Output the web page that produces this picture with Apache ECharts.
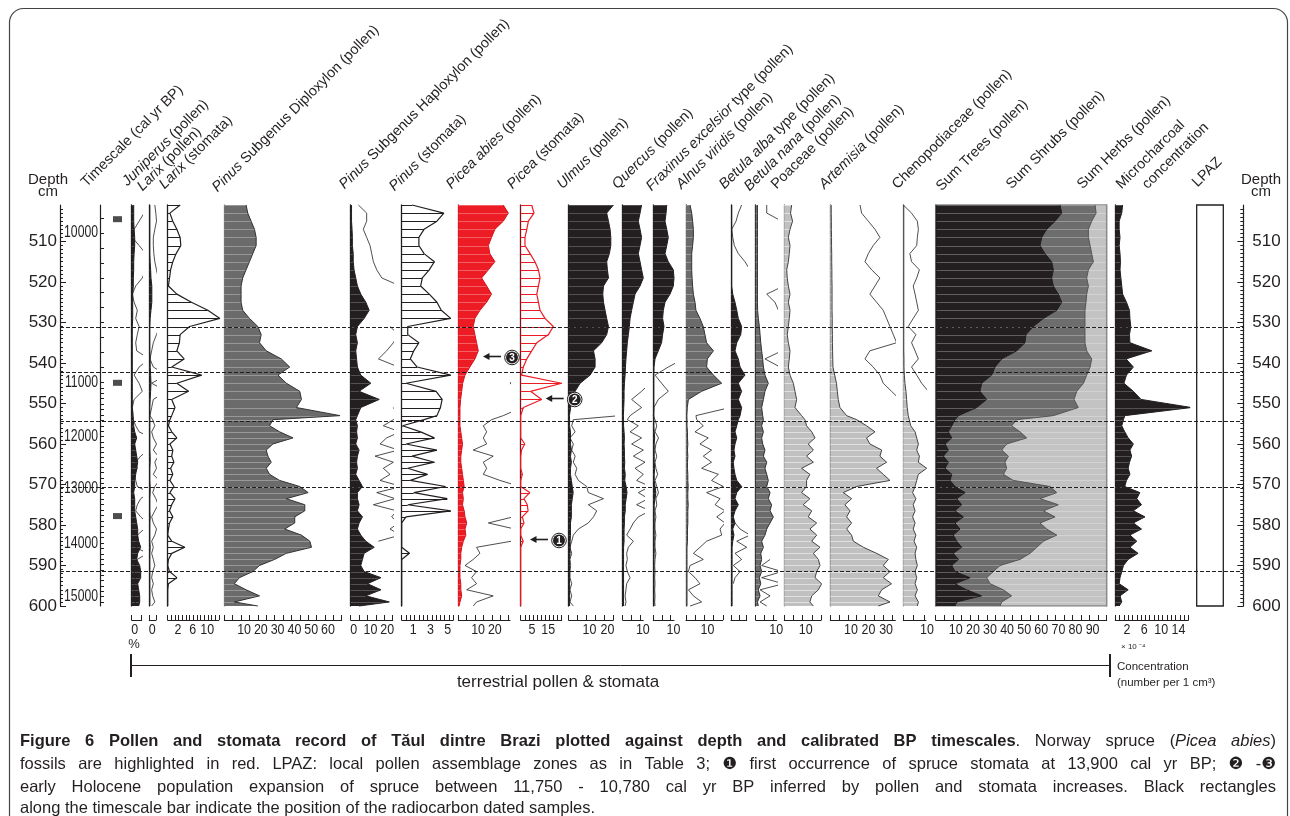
<!DOCTYPE html>
<html><head><meta charset="utf-8">
<script src="https://cdn.jsdelivr.net/npm/echarts@6/dist/echarts.min.js"></script>
<style>html,body{margin:0;padding:0;background:#fff;}#chart{width:1290px;height:816px;}</style>
</head><body><div id="chart"></div>
<script>
// ---------------- DATA ----------------
const depths = [501,503,505,507,509,511,513,515,517,519,521,523,525,527,529,531,533,535,537,539,541,543,545,547,549,551,553,
 554,555.5,557,558.5,560,561.5,563,564.5,566,567.5,569,570.5,572,573.5,575,576.5,578,579.5,581,582.5,584,585.5,587,588.5,590,591.5,593,594.5,596,597.5,599,600];

const juniperus = [1,1,1,1.2,1.5,1.5,1.2,1,1,0.8, 0.8,0.5,0.5,0.5,0.5,0.3,0.3,0.3,0.3,0.3, 0.3,0.3,0.3,0.3,0.3,0.3,0.5,
 0.8,1,1.5,2.5,1.5,2,2.5,3,2.5,2, 1.5,1.5,1,1.5,1.5,1.5,2,2.5,3,3, 3.5,4.5,3,2.5,4,4.5,4.5,3,3.5,4, 4,3.5];
const juniperusExag = [7.8,6.2,3.7,1.2,0.3,3.7,7,7.8,7,5.3, 2,0.3,1.2,2.8,2,3.7,2.8,2,2.5,8.7, 3.7,1.2,3.7,5.3,1.2,0.3,0.8,
 0.8,2,3.7,9.8,7.5,8.2,4.5,2,2.8,1.5, 2,2.8,8.7,4.5,2.8,2,4.5,7.8,6.2,2.8, 2.8,2,7.8,2.8,2,1.2,2,1.2,1.5,1.2, 2,1.2];
const larixPollen = [0.3,0.3,0.3,0.3,0.3,0.3,0.3,0.5,0.8,1, 1.5,1.5,1.5,1,0.5,0.3,0.3,0.3,0.3,0.5, 0.5,0.8,1,0.8,0.5,0.3,0.3,
 0.3,0.3,0.3,0.3,0.3,0.3,0.5,0.5,0.3,0.3, 0.3,0.5,0.5,0.3,0.3,0.3,0.5,0.3,0.3,0.3, 0.3,0.5,0.3,0.3,0.3,0.3,0.3,0.3,0.3,0.3, 0.3,0.3];
const larixPollenExag = [3.3,3.9,4.3,3.3,2.4,2.4,2.7,3.3,4.3,5.3, 7.3,9.2,10.2,9.8,8.2,6.3,4.3,2.4,1.4,0.4, 2.4,10.2,1.4,10.2,2.4,1.4,0.4,
 2,3.3,1.4,2.4,4.3,2.4,5.3,3.3,4.3,2.4, 5.9,3.3,2,3.9,5.3,3.3,1.4,2.4,4.3,3.3, 1.4,2.4,1.4,2.4,3.3,2,1.4,2.4,1.4,2, 3.3,1.4];
const larixStomata = [3.4,0.6,1.4,2.5,3.4,3.6,2.3,1.4,0.8,0.5, 0.2,2.5,6.5,11,14.3,6,3.4,3.2,2.5,4.5, 1.1,9.3,2.5,5.7,1.1,2,1.1,
 0.6,0.2,1.1,2.5,0.6,1.4,1.1,1.7,0.8,1.4, 0.6,1.7,0.6,2,1.1,0.5,1.4,0.5,0.2,0, 1.1,4.7,1.1,0.2,0,0.5,2.5,0.2,0,0, 0,0];
const pinusDiploxylon = [13,14,16,18,19,19,17,15,13,11, 10,10,10,11,15,20,22,21,25,34, 39,32,37,45,46,43,69,
 29,27,33,41,29,25,26,28,25,27, 33,45,50,37,48,48,42,42,36,46, 51,52,37,30,21,17,9,6,13,21, 6,20];
const pinusHaploxylon = [0.5,0.5,0.5,0.8,1,1,1.5,1.5,2,3, 4,6,9,11,8,4,3,4,3,3.5, 4,6,12,5,17,6,4,
 3,4,3.5,4,3,5,4,3.5,4,3, 5,7,4,4,5,4,7,5,4,6, 9,14,8,7,6,8,18,10,18,9, 23,5];
const pinusHaploxylonExag = [4.6,9.5,9.5,7.5,9.5,11.5,12.5,13.5,15.5,18.5, 29.4,null,null,null,null,23.4,28.4,25.4,21.4,16.5, 28.4,null,null,null,null,25.4,28.4,
 25.4,19.4,29.4,21.4,17.5,28.4,14.5,25.4,19.4,23.4, 17.5,30.4,15.5,26.4,13.5,27.4,24.4,28.4,23.4,29.4, 16.5,null,29.4,null,null,null,null,null,null,null, null,null];
const pinusStomata = [1.2,4.9,4.1,2.6,2,2,2.6,3.8,3.2,2.4, 2.2,3.2,4.1,4.6,5.7,0.7,0.7,2,1.4,1, 1.8,5.7,0.5,4,4.7,4.5,4.1,
 2.6,0.1,2.2,3.8,0.5,4.1,1.2,3.8,0.7,3, 1,5.1,1.4,5.3,0.7,5.7,0.5,0,0,0, 0,0,0.9,0,0,0,0,0,0,0, 0,0];
const piceaPollen = [26.8,29.8,26.8,21.8,19.8,17.9,18.8,21.8,17.9,13.9, 16.9,19.8,16.9,12.9,9.9,8.9,9.9,10.9,11.9,9.9, 6.9,4,2.6,2,1.4,1,1,
 1,1,1.5,2,2.5,2,1.5,1.5,2,2.5, 3,3.5,2.5,3,2.5,3.5,4,5,4,4.5, 3,2,1.5,1.5,1,1,1,1.5,1.5,2, 1,0.5];
const piceaPollenExag = [null,null,null,null,null,null,null,null,null,null, null,null,null,null,null,null,null,null,null,null, null,35.7,30.8,36.7,31.7,37.7,26.8,
 19.8,14.9,16.9,14.9,16.9,8.9,20.8,14.9,16.9,14.9, 24.8,36.7,32.7,34.7,33.7,34.7,32.7,17.9,33.7,32.7, 31.7,10.9,12.9,8.9,4,10.9,7.9,10.9,5,20.8, 10.9,8.9];
const piceaStomata = [6.7,8.1,4.7,3.7,2.6,2.6,5.7,8.7,10.8,11.8, 10.8,9.8,10.8,11.8,14.8,19.9,16.9,9.8,6.7,3.7, 1.6,0.5,25,6,12.8,1.6,0,
 0,0,0,0,2.5,0.5,0,0,0,1, 0,0,5.5,2,4,4.5,1,2,0,0, 1.5,0,0,0,0,0,0,0,0,0, 0,0];
const ulmus = [25.1,21.3,22.3,23.2,23.6,23.6,22.8,21.3,21.7,22.3, 19.5,19.1,19.5,20.4,21.3,22.3,21.3,18.5,13.9,14.8, 14.8,12,6.4,3.6,2.2,1.1,0.4,
 0.5,0.5,1,1,1,1.5,1,1.5,1,1, 1.5,2,2.5,2,1.5,1.5,1.5,1,1,1, 0.8,0.8,0.8,0.5,0.5,0.5,0.5,0.5,0.5,0.5, 0.5,0.5];
const ulmusExag = [null,null,null,null,null,null,null,null,null,null, null,null,null,null,null,null,null,null,null,null, null,null,null,null,null,null,28.8,
 2.6,1.7,3.6,0.7,2.6,1.7,3.6,2.6,4.5,3.6, 5.4,10.1,11,19.5,11,15.7,13.9,11,5.4,2.6, 1.7,0.7,1.7,0.7,1.1,0.7,0.7,1.7,0.7,1.7, 0.7,2.6];
const quercus = [11,10.1,9.1,10.1,11,10.1,9.1,10.1,11,12, 10.1,7.2,6.2,5.2,4.3,3.9,3.3,2.7,2.3,1.9, 1.6,1.4,1,0.8,0.8,0.6,0.4,
 0.5,0.5,0.8,1,0.8,1,1,1.2,1,1.5, 1.2,2,2.5,2,1.5,1.5,1,1,0.8,0.8, 0.8,0.5,0.5,0.5,0.5,0.5,0.5,0.5,0.5,0.5, 0.5,0.5];
const quercusExag = [null,null,null,null,null,null,null,null,null,null, null,null,null,null,null,null,null,null,null,null, null,null,15.9,11,5.2,11,4.3,
 2.7,9.1,4.3,11,5.2,12,6.2,13,7.2,12, 8.1,15.9,9.1,14.9,8.1,15.9,9.1,6.2,4.3,2.3, 6.2,3.3,2.3,2.7,1.9,2.7,4.3,2.3,1.9,1.4, 1.9,1.4];
const fraxinus = [7.8,7.4,6.8,7.8,8.7,7.8,6.8,8.7,11.6,12, 11.6,9.7,6.8,5.8,5.4,6.2,5.4,4.8,2.9,1, 0.4,0.3,0.3,0.3,0.3,0.3,0.3,
 0.3,0.3,0.5,0.8,0.5,0.5,0.5,0.5,0.8,0.5, 0.5,1,1.5,1,0.5,0.5,0.5,0.5,0.5,0.5, 0.5,0.5,0.5,0.3,0.3,0.3,0.3,0.3,0.3,0.3, 0.3,0.3];
const fraxinusExag = [null,null,null,null,null,null,null,null,null,null, null,null,null,null,null,null,null,null,null,17.4, 8.7,1,4.8,8.7,2.9,0.4,0,
 1,2,1,3,1.5,1,2,1,1.5,2.5, 1,2,3,1.5,2,1,1.5,1,1,1.5, 1,1,1.5,1,0.8,1,0.8,1,0.8,1, 0.8,1];
const alnusViridis = [2.2,3.1,3.6,4,4,3.6,3.1,3.1,3.1,3.3, 3.6,4,4.9,5.4,7.6,9.4,10.3,11.2,14.9,11.6, 11.2,14.9,19.4,8.5,1.3,0.7,0.4,
 0.5,0.5,0.8,0.8,1,0.8,1,0.8,0.8,1, 1,1.2,1,1,1.2,1,1,1,0.8,0.8, 0.8,0.5,0.5,0.5,0.5,0.5,0.5,0.5,0.5,0.5, 0.5,0.5];
const alnusViridisExag = [null,null,null,null,null,null,null,null,null,null, null,null,null,null,null,null,null,null,null,null, null,null,null,null,null,23.9,5.4,
 5.8,9.4,4.9,12.1,7.6,13.9,9.4,13.9,8.5,17.6, 13.9,20.3,11.2,18.5,15.8,21.2,16.7,21.2,18.5,19.4, 11.2,7.6,4,9.4,2.2,1.3,4.9,7.6,1.3,4, 8.5,2.2];
const betulaAlba = [0.4,0.4,0.4,0.4,0.4,0.4,0.4,0.4,0.4,0.4, 0.4,1,2.3,3.3,4.2,6.1,5.6,3.3,2.3,4.2, 5.2,8,4.2,6.1,4.2,6.1,5.2,
 4.2,3.3,2.3,3.3,2.3,1.7,2.3,1.3,1.7,2.3, 3.3,6.1,3.3,2.3,4.2,2.3,1.3,2.3,1,1.7, 1,0.6,0.6,0.6,0.6,0.6,0.6,0.6,0.6,0.6, 0.6,0.6];
const betulaAlbaExag = [6.1,4.2,2.9,0.4,1,1.9,4.2,8,10.9,12.8, 14.4,null,null,null,null,null,null,null,null,null, null,null,null,null,null,null,null,
 null,null,null,null,null,null,null,null,null,null, null,null,null,null,null,null,null,2.3,5.2,10.9, 3.3,9,2.3,6.1,1.3,5.2,2.3,1.3,null,null, null,null];
const betulaNana = [1,1,1,1,1,1,1,1,1,1, 1,1,1,1.1,1.5,2.1,2.5,2.9,3.4,4, 4.4,5.3,7.2,5.3,4.4,3.4,4,
 4.4,3.4,4.4,3.4,4,5.3,4.4,6.3,5.3,6.3, 7.2,6.3,8.2,7.2,9.1,8.2,10.1,8.2,6.3,5.3, 3.4,4.4,2.9,3.4,2.5,3.4,2.1,2.9,1.5,2.5, 1,1.5];
const betulaNanaExag = [6.3,6.3,14.9,null,null,null,null,null,null,null, 15.8,6.3,11,13,13.9,13.9,null,null,14.9,5.3, 13.9,null,null,null,null,null,null,
 null,null,null,null,null,null,null,null,null,null, null,null,null,null,null,null,null,null,null,null, null,null,null,8.2,3.4,14.9,3.4,15.8,2.5,8.2, 2.5,6.3];
const poaceae = [4,3.4,4.5,3.1,2.2,3.1,2.7,2.2,1.3,1.6, 2.2,3.1,2.2,3.1,2.7,2.2,1.6,2.2,3.1,2.7, 2.2,3.1,4.9,5.8,6.7,5.8,9.4,
 11.2,12.1,14.9,16.7,13,15.8,12.1,15.8,9.4,13.9, 12.1,12.1,9.4,13.9,10.3,14.9,13,17.6,13.9,17.6, 14.9,19.4,15.8,18.5,19.4,17.6,16.7,20.3,18.5,14.9, 13.9,15.8];
const artemisia = [0.5,0.5,0.6,0.6,0.7,0.7,0.8,0.8,0.9,0.9, 1,1,1,1,1.1,1.1,1.2,1.2,1.3,1.4, 1.5,2.5,3.5,4,4.5,5.5,9.3,
 15,20.6,25.4,20.6,22.5,29.2,28.2,32,26.3,30.1, 33.9,15,7.4,12.1,8.3,11.2,9.3,12.1,9.3,12.1, 13.1,18.8,26.3,33,30.1,33.9,30.1,34.8,29.2,27.3, 33.9,27.3];
const artemisiaExag = [16.9,17.8,21.6,25.4,28.2,24.4,21.6,19.7,23.5,28.2, 25.4,22.5,26.3,30.1,32,33.9,35.8,37.7,22.5,19.7, 24.4,28.2,30.1,34.8,39.6,null,null,
 null,null,null,null,null,null,null,null,null,null, null,null,null,null,null,null,null,null,null,null, null,null,null,null,null,null,null,null,null,null, null,null];
const chenopodiaceae = [0.2,0.2,0.2,0.2,0.2,0.2,0.2,0.2,0.2,0.2, 0.2,0.2,0.2,0.2,0.2,0.2,0.2,0.2,0.2,0.3, 0.3,0.5,0.8,1.3,1.6,1.9,2.4,
 2.9,3.6,5.7,6.5,7.3,6.5,7.8,7.3,11.3,7.3, 6.5,5.7,4.5,6.1,4.8,5.7,4.5,5.7,4.8,6.1, 5.2,6.5,5.7,6.1,6.8,5.7,6.5,5.7,6.8,5.7, 7.3,6.8];
const chenopodiaceaeExag = [0,4,6.8,7.3,6.8,6.5,3.2,4,7.8,6.5, 4.8,5.7,6.5,7.3,4.8,2.4,6.1,4,5.7,7.3, 4,6.5,8.9,12.1,16.2,null,null,
 null,null,null,null,null,null,null,null,null,null, null,null,null,null,null,null,null,null,null,null, null,null,null,null,null,null,null,null,null,null, null,null];
const sumTrees = [72.7,73.7,69.8,64.9,62,61,63.9,67.8,68.8,67.8, 68.8,71.7,73.7,70.8,63,57.1,52.8,52.2,47.4,38.6, 34.7,32.7,26.9,25.9,29.8,24,13.3,
 11.3,9.4,7.4,9.4,5.5,7.4,4.5,7.4,5.5,9.4, 8.4,11.3,17.2,12.3,15.2,11.3,16.2,11.3,14.2,10.3, 12.3,15.2,10.3,13.3,9.4,11.3,20.1,11.3,18.1,26.9, 12.3,11.3];
const sumTreesShrubs = [93.2,93.8,91.2,89.3,89.3,90.3,91.2,92.2,89.3,88.3, 89.3,88.3,87.9,87.3,87.3,87.3,87.3,87.3,88.3,91.2, 90.3,88.3,86.4,82.5,80.9,83.4,68.8,
 47.4,44.4,49.3,53.2,41.5,38.6,42.5,40.5,41.5,39.6, 45.4,66.9,70.8,61,71.7,63,69.8,61,64.9,70.8, 63,59.1,55.2,49.3,37.6,33.7,29.8,31.8,39.6,44.4, 38.6,37.6];
const charcoal = [1.7,1.5,0.9,0.9,1.1,0.9,1.1,1.2,1.1,1.3, 1.5,1.7,2.6,3.3,3.4,3.6,3.3,3.4,8.5,2.5, 4.2,2.6,2,4.2,6,17.7,2.2,
 1.9,1.5,2.2,3,4.2,3.4,3.8,3.3,3,3.4, 2.6,2.2,5.7,5,6.1,4.2,6.9,4.2,6.1,3.4, 5,3.4,5.3,3,1.9,1.5,1.1,0.9,3,1.1, 1.5,0.9];

// scale (tick label) arrays
const juniperusScale = [0];
const larixPollenScale = [0];
const larixStomataScale = [2, 6, 10];
const pinusDiploxylonScale = [10, 20, 30, 40, 50, 60];
const pinusHaploxylonScale = [0, 10, 20];
const pinusStomataScale = [1, 3, 5];
const piceaPollenScale = [10, 20];
const piceaStomataScale = [5, 15];
const ulmusScale = [10, 20];
const quercusScale = [10];
const fraxinusScale = [10];
const alnusViridisScale = [10];
const betulaAlbaScale = [];
const betulaNanaScale = [10];
const poaceaeScale = [10];
const artemisiaScale = [10, 20, 30];
const chenopodiaceaeScale = [10];
const sumScale = [10, 20, 30, 40, 50, 60, 70, 80, 90];
const charcoalScale = [2, 6, 10, 14];
const depthLabels = [510, 520, 530, 540, 550, 560, 570, 580, 590, 600];

// timescale (age model) and radiocarbon dated samples
const ageLabels = [10000, 11000, 12000, 13000, 14000, 15000];
const ageDepths = [507.9, 544.8, 558.2, 570.9, 584.5, 597.7];
const radiocarbonDepths = [504.5, 544.9, 577.8];

// zones
const zoneBoundaries = [531.2, 542.4, 554.5, 570.6, 591.3];
const zoneNames = ['B-6', 'B-5', 'B-4', 'B-3', 'B-2', 'B-1'];
const zoneLabelDepths = [518, 536.8, 548.5, 562.5, 581, 595.5];

// annotations 1..3 (depths)
const annotationDepths = [583.5, 548.7, 538.2];

// ---------------- LAYOUT / STYLE ----------------
const INK = '#231f20';
const FONT = '"Liberation Sans", Arial, Helvetica, sans-serif';
const TOP = 205, BOTTOM = 606, H = BOTTOM - TOP;
const DMIN = 501, DMAX = 600;

const option = {animation: false, backgroundColor: '#ffffff', grid: [], xAxis: [], yAxis: [], series: [], graphic: []};

function addGrid(x0, x1, xCfg, yCfg, gCfg) {
  const gi = option.grid.length;
  option.grid.push(Object.assign({left: x0, top: TOP, width: x1 - x0, height: H}, gCfg || {}));
  option.xAxis.push(Object.assign({gridIndex: gi, type: 'value', min: 0, max: 1, show: false}, xCfg || {}));
  option.yAxis.push(Object.assign({gridIndex: gi, type: 'value', inverse: true, min: DMIN, max: DMAX, show: false}, yCfg || {}));
  return gi;
}
function scaleAxis(max, step) {
  const ticks = [];
  for (let k = 0; k * step <= max + 1e-9; k++) ticks.push(+(k * step).toFixed(4));
  if (max - ticks[ticks.length - 1] >= step * 0.5) ticks.push(max);
  return {type: 'value', min: 0, max: max, interval: step, show: true, position: 'bottom', offset: 14,
    axisLine: {show: true, onZero: false, lineStyle: {color: INK, width: 1}},
    axisTick: {show: true, inside: true, length: 5, customValues: ticks, lineStyle: {color: INK, width: 1}},
    axisLabel: {show: false}, splitLine: {show: false}};
}
function baseAxis(color) {
  return {show: true, axisLine: {show: true, onZero: true, lineStyle: {color: color || INK, width: 1.3}},
    axisTick: {show: false}, axisLabel: {show: false}, splitLine: {show: false}};
}
const KINDS = {
  black: {fill: INK, edge: INK, hatch: '#ffffff', hop: 0.22},
  dark: {fill: '#6b6b6b', edge: '#333333', hatch: '#ffffff', hop: 0.3},
  light: {fill: '#c0c0c0', edge: '#444444', hatch: '#ffffff', hop: 0.5},
  red: {fill: '#ed1c24', edge: '#d5141c', hatch: '#ffffff', hop: 0.3},
  hatch: {fill: null, edge: INK, hatch: INK, hop: 1},
  redhatch: {fill: null, edge: '#ed1c24', hatch: '#ed1c24', hop: 1}
};
function fillSeries(gi, vals, kind) {
  return {type: 'custom', xAxisIndex: gi, yAxisIndex: gi, z: 2, silent: true, clip: false,
    data: vals.map((v, i) => [v, depths[i]]),
    renderItem: function (params, api) {
      const i = params.dataIndex, kids = [];
      if (i === 0 && kind.fill) {
        const pts = [api.coord([0, depths[0]])];
        vals.forEach((v, k) => pts.push(api.coord([v, depths[k]])));
        pts.push(api.coord([0, depths[depths.length - 1]]));
        kids.push({type: 'polygon', shape: {points: pts}, style: {fill: kind.fill}});
      }
      const a = api.coord([0, depths[i]]), b = api.coord([vals[i], depths[i]]);
      const y = Math.round(a[1]) + 0.5;
      if (b[0] - a[0] > 0.5) kids.push({type: 'line', shape: {x1: a[0], y1: y, x2: b[0], y2: y}, style: {stroke: kind.hatch, lineWidth: 1, opacity: kind.hop}});
      return {type: 'group', children: kids};
    }};
}
function lineSeries(gi, vals, color, width, z) {
  return {type: 'line', xAxisIndex: gi, yAxisIndex: gi, z: z, silent: true, clip: false, showSymbol: false, symbol: 'none',
    connectNulls: false, animation: false,
    data: vals.map((v, i) => [v == null ? '-' : v, depths[i]]),
    lineStyle: {color: color, width: width}};
}

const panels = [
  {v: juniperus, e: juniperusExag, x0: 131.7, x1: 141.7, max: 5, step: 5, lab: juniperusScale, kind: 'black'},
  {v: larixPollen, e: larixPollenExag, x0: 149.3, x1: 156, max: 4, step: 4, lab: larixPollenScale, kind: 'black'},
  {v: larixStomata, x0: 167.7, x1: 218.8, max: 14, step: 1, lab: larixStomataScale, kind: 'hatch'},
  {v: pinusDiploxylon, x0: 224.3, x1: 341.7, max: 70, step: 5, lab: pinusDiploxylonScale, kind: 'dark', base: '#8c8c8c'},
  {v: pinusHaploxylon, e: pinusHaploxylonExag, x0: 350.7, x1: 392.7, max: 25, step: 5, lab: pinusHaploxylonScale, kind: 'black'},
  {v: pinusStomata, x0: 401.7, x1: 453.3, max: 6, step: 0.5, lab: pinusStomataScale, kind: 'hatch'},
  {v: piceaPollen, e: piceaPollenExag, x0: 458.3, x1: 510, max: 30.8, step: 5, lab: piceaPollenScale, kind: 'red', base: '#c0161d'},
  {v: piceaStomata, x0: 520.7, x1: 561.7, max: 25, step: 2.5, lab: piceaStomataScale, kind: 'redhatch', base: '#7d1418', id: 'piceaSt'},
  {v: ulmus, e: ulmusExag, x0: 568.7, x1: 613.3, max: 25, step: 5, lab: ulmusScale, kind: 'black'},
  {v: quercus, e: quercusExag, x0: 622.7, x1: 643.3, max: 12, step: 5, lab: quercusScale, kind: 'black'},
  {v: fraxinus, e: fraxinusExag, x0: 653.3, x1: 674, max: 12, step: 5, lab: fraxinusScale, kind: 'black'},
  {v: alnusViridis, e: alnusViridisExag, x0: 686, x1: 722.8, max: 20, step: 5, lab: alnusViridisScale, kind: 'dark'},
  {v: betulaAlba, e: betulaAlbaExag, x0: 731, x1: 746.7, max: 9, step: 5, lab: betulaAlbaScale, kind: 'black'},
  {v: betulaNana, e: betulaNanaExag, x0: 755.7, x1: 776.7, max: 12, step: 5, lab: betulaNanaScale, kind: 'dark'},
  {v: poaceae, x0: 784.3, x1: 821.1, max: 20, step: 5, lab: poaceaeScale, kind: 'light', base: '#777'},
  {v: artemisia, e: artemisiaExag, x0: 830.3, x1: 895.4, max: 37, step: 5, lab: artemisiaScale, kind: 'light', base: '#555'},
  {v: chenopodiaceae, e: chenopodiaceaeExag, x0: 903.3, x1: 926, max: 11, step: 5, lab: chenopodiaceaeScale, kind: 'light', base: '#777'},
  {v: charcoal, x0: 1115.3, x1: 1188.4, max: 17, step: 1, lab: charcoalScale, kind: 'black'}
];
let piceaStGrid = 0;
const scaleLabelSets = [];
panels.forEach(p => {
  const gi = addGrid(p.x0, p.x1, scaleAxis(p.max, p.step), baseAxis(p.base));
  if (p.id === 'piceaSt') piceaStGrid = gi;
  scaleLabelSets.push([gi, p.lab]);
  const kind = KINDS[p.kind];
  option.series.push(fillSeries(gi, p.v, kind));
  option.series.push(lineSeries(gi, p.v, kind.edge, p.kind.indexOf('hatch') >= 0 ? 1.2 : 1, 3));
  if (p.e) option.series.push(lineSeries(gi, p.e, INK, 0.8, 4));
});

// summary diagram
const gS = addGrid(935.7, 1106.7, scaleAxis(100, 5), {show: false},
  {show: true, backgroundColor: '#c3c3c3', borderColor: '#8a8a8a', borderWidth: 1.5});
scaleLabelSets.push([gS, sumScale]);
option.series.push({type: 'custom', xAxisIndex: gS, yAxisIndex: gS, z: 2, silent: true, clip: false,
  data: sumTrees.map((v, i) => [v, depths[i]]),
  renderItem: function (params, api) {
    const i = params.dataIndex, kids = [];
    if (i === 0) {
      [[sumTreesShrubs, '#6d6d6d'], [sumTrees, INK]].forEach(([arr, col]) => {
        const pts = [api.coord([0, depths[0]])];
        arr.forEach((v, k) => pts.push(api.coord([v, depths[k]])));
        pts.push(api.coord([0, depths[depths.length - 1]]));
        kids.push({type: 'polygon', shape: {points: pts}, style: {fill: col}});
      });
    }
    const a = api.coord([0, depths[i]]), b = api.coord([100, depths[i]]);
    const y = Math.round(a[1]) + 0.5;
    kids.push({type: 'line', shape: {x1: a[0] + 1, y1: y, x2: b[0] - 1, y2: y}, style: {stroke: '#ffffff', lineWidth: 1, opacity: 0.28}});
    return {type: 'group', children: kids};
  }});
option.series.push(lineSeries(gS, sumTreesShrubs, '#555555', 1, 3));
option.series.push(lineSeries(gS, sumTrees, INK, 1, 3));

// depth axes (left and right)
const minorDepths = [];
for (let d = 502; d <= 600; d++) minorDepths.push(d);
function depthAxis(pos, major) {
  return {show: true, position: pos,
    axisLine: {show: major, onZero: false, lineStyle: {color: INK, width: 1.2}},
    axisTick: {show: true, inside: true, length: major ? 6 : 3, customValues: major ? depthLabels : minorDepths, lineStyle: {color: INK, width: 1}},
    axisLabel: {show: major, customValues: depthLabels, fontSize: 17, fontFamily: FONT, color: INK, margin: pos === 'left' ? 3 : 9},
    splitLine: {show: false}};
}
addGrid(60, 70, null, depthAxis('left', true));
addGrid(60, 70, null, depthAxis('left', false));
addGrid(1233.3, 1243.3, null, depthAxis('right', true));
addGrid(1233.3, 1243.3, null, depthAxis('right', false));

// timescale
function ageToDepth(a) {
  let k = 0;
  if (a >= ageLabels[ageLabels.length - 1]) k = ageLabels.length - 2;
  else if (a > ageLabels[0]) { while (a > ageLabels[k + 1]) k++; }
  return ageDepths[k] + (a - ageLabels[k]) * (ageDepths[k + 1] - ageDepths[k]) / (ageLabels[k + 1] - ageLabels[k]);
}
const timeTicks = [];
for (let a = 9900; a <= 15100; a += 100) { const d = ageToDepth(a); if (d >= DMIN && d <= DMAX) timeTicks.push(+d.toFixed(3)); }
const gT = addGrid(100, 125, {min: 0, max: 25}, {show: true, position: 'left',
  axisLine: {show: true, onZero: false, lineStyle: {color: INK, width: 1.2}},
  axisTick: {show: true, inside: true, length: 4, customValues: timeTicks, lineStyle: {color: INK, width: 1}},
  axisLabel: {show: false}, splitLine: {show: false}});
option.series.push({type: 'scatter', xAxisIndex: gT, yAxisIndex: gT, silent: true, symbol: 'rect', symbolSize: [9, 6],
  itemStyle: {color: INK}, data: radiocarbonDepths.map(d => [17.5, d]), z: 5});

// LPAZ column
const gL = addGrid(1196.7, 1223.3, {min: 0, max: 1}, {show: false},
  {show: true, borderColor: INK, borderWidth: 1.3, backgroundColor: 'rgba(0,0,0,0)'});
option.series.push({type: 'scatter', xAxisIndex: gL, yAxisIndex: gL, silent: true, symbolSize: 1, itemStyle: {opacity: 0},
  data: zoneLabelDepths.map((d, i) => ({value: [0.5, d], name: zoneNames[i]})),
  label: {show: true, position: 'inside', formatter: '{b}', fontSize: 13, fontFamily: FONT, color: INK}, z: 6});

// zone boundary dashed lines
const gZ = addGrid(60, 1243.3, {min: 0, max: 1}, {show: false});
option.series.push({type: 'line', xAxisIndex: gZ, yAxisIndex: gZ, data: [[0, DMIN]], symbol: 'none', lineStyle: {width: 0}, z: 8, silent: true,
  markLine: {silent: true, symbol: ['none', 'none'], label: {show: false}, animation: false,
    lineStyle: {type: [4, 2], color: INK, width: 1}, data: zoneBoundaries.map(b => ({yAxis: b}))}});

// ---------------- TEXT / GRAPHICS ----------------
const G = option.graphic;
G.push({type: 'rect', shape: {x: 9.5, y: 8.5, width: 1278, height: 900, r: 14}, style: {fill: 'none', stroke: '#444', lineWidth: 1.2}, z: -1});
const headerTexts = [
  ['Timescale (cal yr BP)', 87, 188], ['{i|Juniperus} (pollen)', 128, 187], ['{i|Larix} (pollen)', 143, 192],
  ['{i|Larix} (stomata)', 165, 190], ['{i|Pinus} Subgenus Diploxylon (pollen)', 218, 193],
  ['{i|Pinus} Subgenus Haploxylon (pollen)', 345, 190], ['{i|Pinus} (stomata)', 395, 192],
  ['{i|Picea abies} (pollen)', 452, 190], ['{i|Picea} (stomata)', 513, 190], ['{i|Ulmus} (pollen)', 563, 190],
  ['{i|Quercus} (pollen)', 618, 190], ['{i|Fraxinus excelsior} type (pollen)', 652, 192],
  ['{i|Alnus viridis} (pollen)', 682, 190], ['{i|Betula alba} type (pollen)', 725, 190],
  ['{i|Betula nana} (pollen)', 750, 192], ['Poaceae (pollen)', 777, 190], ['{i|Artemisia} (pollen)', 825, 190],
  ['Chenopodiaceae (pollen)', 898, 190], ['Sum Trees (pollen)', 942, 192], ['Sum Shrubs (pollen)', 1012, 190],
  ['Sum Herbs (pollen)', 1083, 190], ['Microcharcoal', 1122, 190], ['concentration', 1148, 190], ['LPAZ', 1198, 188]
];
headerTexts.forEach(([t, x, y]) => G.push({type: 'text', x: x + 2, y: y + 2, rotation: Math.PI / 4,
  style: {text: t, fontSize: 14.5, fontFamily: FONT, fill: INK, align: 'left', verticalAlign: 'bottom',
    rich: {i: {fontStyle: 'italic', fontSize: 14.5, fontFamily: FONT, fill: INK}}}}));
[[48, 'Depth', 180], [48, 'cm', 192], [1261, 'Depth', 180], [1261, 'cm', 192]].forEach(([x, t, y]) =>
  G.push({type: 'text', x: x, y: y, style: {text: t, fontSize: 15, fontFamily: FONT, fill: INK, align: 'center', verticalAlign: 'middle'}}));
G.push({type: 'text', x: 134, y: 644, style: {text: '%', fontSize: 13, fontFamily: FONT, fill: INK, align: 'center', verticalAlign: 'middle'}});
G.push({type: 'text', x: 1121, y: 647, style: {text: '× 10 ⁻⁴', fontSize: 8, fontFamily: FONT, fill: INK, align: 'left', verticalAlign: 'middle'}});
G.push({type: 'line', shape: {x1: 131, y1: 665.5, x2: 1110, y2: 665.5}, style: {stroke: INK, lineWidth: 1}});
G.push({type: 'line', shape: {x1: 131, y1: 654, x2: 131, y2: 677}, style: {stroke: INK, lineWidth: 2}});
G.push({type: 'line', shape: {x1: 1110, y1: 654, x2: 1110, y2: 677}, style: {stroke: INK, lineWidth: 2}});
G.push({type: 'text', x: 558, y: 682, style: {text: 'terrestrial pollen & stomata', fontSize: 17, fontFamily: FONT, fill: INK, align: 'center', verticalAlign: 'middle'}});
G.push({type: 'text', x: 1117, y: 667, style: {text: 'Concentration', fontSize: 11.5, fontFamily: FONT, fill: INK, align: 'left', verticalAlign: 'middle'}});
G.push({type: 'text', x: 1117, y: 683, style: {text: '(number per 1 cm³)', fontSize: 11.5, fontFamily: FONT, fill: INK, align: 'left', verticalAlign: 'middle'}});

// caption (justified)
const CAP_SIZE = 16.5, CAP_X0 = 20, CAP_X1 = 1276;
const capFont = st => (st === 'i' ? 'italic ' : '') + (st === 'b' ? 'bold ' : '') + CAP_SIZE + 'px ' + FONT + ', "DejaVu Sans"';
const capLines = [
  {segs: [['b', 'Figure 6 Pollen and stomata record of Tăul dintre Brazi plotted against depth and calibrated BP timescales'], ['n', '. Norway spruce ('], ['i', 'Picea abies'], ['n', ')']], y: 741, justify: true},
  {segs: [['n', 'fossils are highlighted in red. LPAZ: local pollen assemblage zones as in Table 3; ❶ first occurrence of spruce stomata at 13,900 cal yr BP; ❷ -❸']], y: 764, justify: true},
  {segs: [['n', 'early Holocene population expansion of spruce between 11,750 - 10,780 cal yr BP inferred by pollen and stomata increases. Black rectangles']], y: 787, justify: true},
  {segs: [['n', 'along the timescale bar indicate the position of the radiocarbon dated samples.']], y: 808, justify: false}
];
const mctx = document.createElement('canvas').getContext('2d');
capLines.forEach(line => {
  const toks = [];
  line.segs.forEach(([st, txt]) => txt.split(/( )/).forEach(p => { if (p === ' ') toks.push({sp: true}); else if (p) toks.push({t: p, st: st}); }));
  let total = 0, nsp = 0;
  toks.forEach(tk => { if (tk.sp) nsp++; else { mctx.font = capFont(tk.st); tk.w = mctx.measureText(tk.t).width; total += tk.w; } });
  mctx.font = capFont('n');
  const gap = line.justify && nsp ? (CAP_X1 - CAP_X0 - total) / nsp : mctx.measureText(' ').width;
  let x = CAP_X0;
  toks.forEach(tk => {
    if (tk.sp) { x += gap; return; }
    G.push({type: 'text', x: x, y: line.y, style: {text: tk.t, font: capFont(tk.st), fill: INK, align: 'left', verticalAlign: 'middle'}});
    x += tk.w;
  });
});

// sanity check
const allArr = {juniperus, juniperusExag, larixPollen, larixPollenExag, larixStomata, pinusDiploxylon, pinusHaploxylon, pinusHaploxylonExag,
  pinusStomata, piceaPollen, piceaPollenExag, piceaStomata, ulmus, ulmusExag, quercus, quercusExag, fraxinus, fraxinusExag, alnusViridis,
  alnusViridisExag, betulaAlba, betulaAlbaExag, betulaNana, betulaNanaExag, poaceae, artemisia, artemisiaExag, chenopodiaceae,
  chenopodiaceaeExag, sumTrees, sumTreesShrubs, charcoal};
const bad = Object.keys(allArr).filter(k => allArr[k].length !== depths.length).map(k => k + ':' + allArr[k].length);
if (bad.length) G.push({type: 'text', x: 300, y: 100, z: 100, style: {text: 'LEN ' + bad.join(' '), fontSize: 14, fill: '#f00'}});

const chart = echarts.init(document.getElementById('chart'), null, {renderer: 'canvas', width: 1290, height: 816});
chart.setOption(option);

// scale labels under each panel (condensed text placed through the axes' own scales)
scaleLabelSets.forEach(([gi, labs]) => labs.forEach(v => {
  const x = chart.convertToPixel({gridIndex: gi}, [v, DMIN])[0] + 3;
  G.push({type: 'text', x: x, y: 630, scaleX: 0.86, style: {text: String(v), fontSize: 14.5, fontFamily: FONT, fill: INK, align: 'center', verticalAlign: 'middle'}});
}));
// timescale labels
ageLabels.forEach((a, k) => {
  const y = chart.convertToPixel({gridIndex: gT}, [0, ageDepths[k]])[1];
  G.push({type: 'text', x: 98, y: y, scaleX: 0.74, style: {text: String(a), fontSize: 16.5, fontFamily: FONT, fill: INK, align: 'right', verticalAlign: 'middle'}});
});
// annotations (arrows with circled numbers)
const annTipX = [530, 545.7, 483];
annotationDepths.forEach((d, k) => {
  const y = Math.round(chart.convertToPixel({gridIndex: piceaStGrid}, [0, d])[1]) + 0.5;
  const tip = annTipX[k];
  G.push({type: 'polygon', shape: {points: [[tip, y], [tip + 6.5, y - 3.5], [tip + 6.5, y + 3.5]]}, style: {fill: INK}, z: 20});
  G.push({type: 'line', shape: {x1: tip + 5, y1: y, x2: tip + 18, y2: y}, style: {stroke: INK, lineWidth: 1.6}, z: 20});
  G.push({type: 'circle', shape: {cx: tip + 29, cy: y + 1, r: 7.3}, style: {fill: '#fff', stroke: INK, lineWidth: 1}, z: 20});
  G.push({type: 'circle', shape: {cx: tip + 29, cy: y + 1, r: 6}, style: {fill: INK}, z: 21});
  G.push({type: 'text', x: tip + 29, y: y + 1.5, z: 22, style: {text: String(k + 1), fontSize: 10, fontWeight: 'bold', fontFamily: FONT, fill: '#fff', align: 'center', verticalAlign: 'middle'}});
});
chart.setOption({graphic: G});
</script>
</body></html>
